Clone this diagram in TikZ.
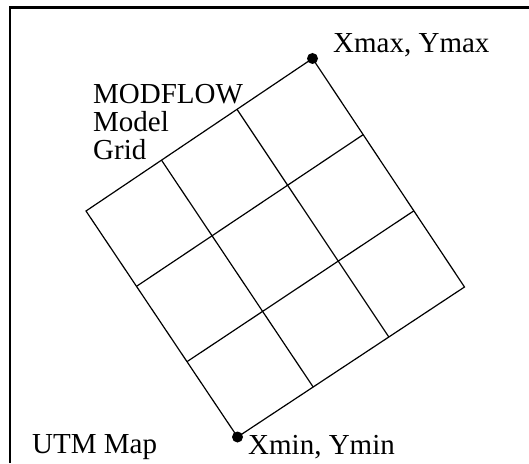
\documentclass[tikz,border=0pt]{standalone}
\usepackage{fontspec}
\setmainfont{Liberation Serif}
\usetikzlibrary{calc}

\begin{document}
\begin{tikzpicture}[x=1pt,y=1pt,
  frame/.style={line width=2.2pt},
  gridline/.style={line width=1.2pt,line join=miter},
  corner/.style={circle,fill=black,inner sep=0pt,minimum size=11pt},
  lbl/.style={inner sep=0pt,anchor=base west,align=left,
              font=\fontsize{29}{28}\selectfont}]
  \useasboundingbox (0,0) rectangle (529,463);
  % map frame, cut off at right and bottom
  \draw[frame] (9.7,0) -- (9.7,455.5) -- (529,455.5);
  % rotated model grid
  \coordinate (lo)  at (237.5,26);
  \coordinate (rgt) at (464.5,176);
  \coordinate (hi)  at (312.5,404.5);
  \coordinate (lft) at (86,252);
  \draw[gridline] (lo) -- (rgt) -- (hi) -- (lft) -- cycle;
  \foreach \i in {1,2}{
    \draw[gridline] ($(lo)!\i/3!(lft)$) -- ($(rgt)!\i/3!(hi)$);
    \draw[gridline] ($(lo)!\i/3!(rgt)$) -- ($(lft)!\i/3!(hi)$);
  }
  \node[corner] (pmin) at (lo) {};
  \node[corner] (pmax) at (hi) {};
  \node[lbl] (maxlbl) at (333,410) {Xmax, Ymax};
  \node[lbl] (minlbl) at (248,9) {Xmin, Ymin};
  \node[lbl] (gridlbl) at (93,303) {MODFLOW\\Model\\Grid};
  \node[lbl] (maplbl) at (32,10) {UTM Map};
\end{tikzpicture}
\end{document}
